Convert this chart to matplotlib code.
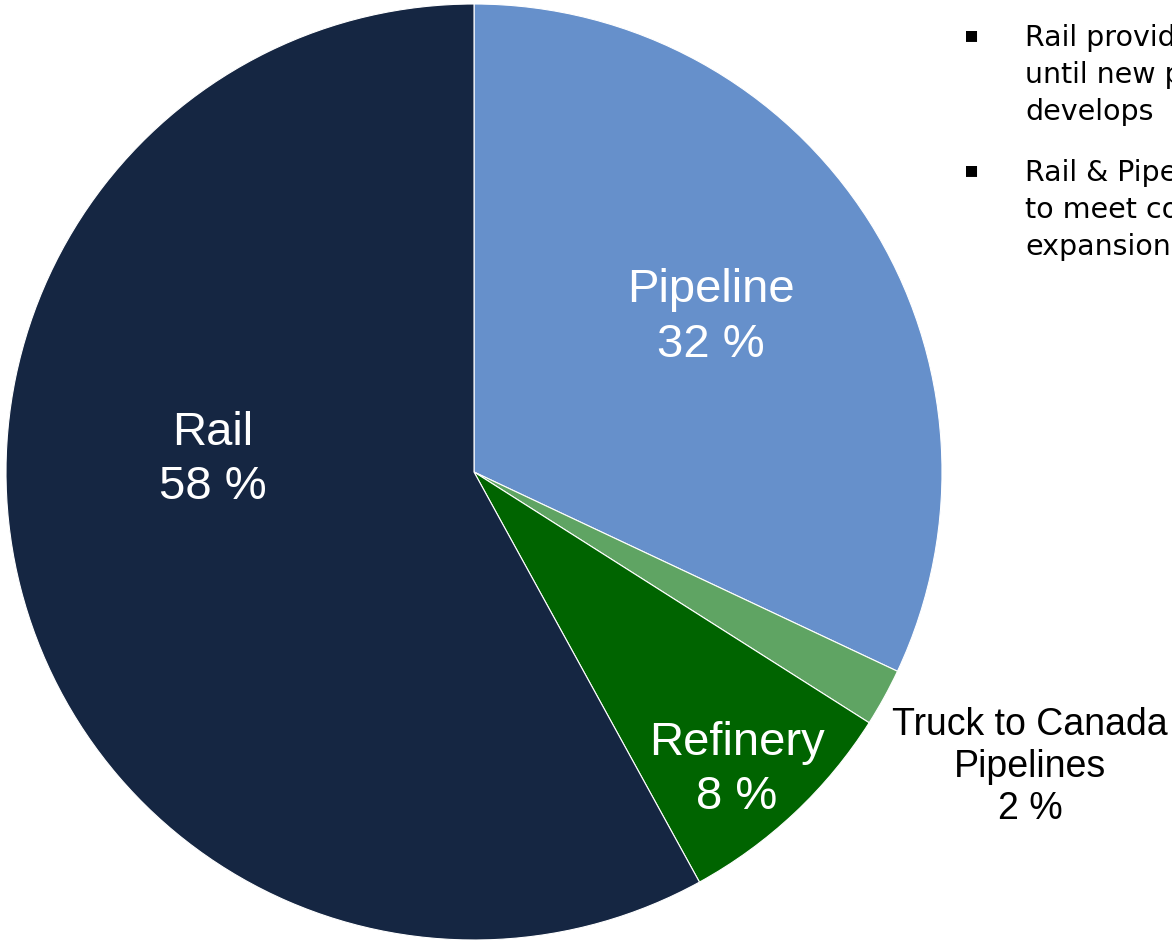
import matplotlib.pyplot as plt

labels = ['Pipeline', 'Truck to Canada\nPipelines', 'Refinery', 'Rail']
shares = [32, 2, 8, 58]
colors = ['#6690CB', '#5FA463', '#006400', '#152642']
bullets = ['Rail provides\nuntil new pipeline\ndevelops',
           'Rail & Pipeline\nto meet continued\nexpansion']

W, H = 1172, 944
cx, cy, r = 474, 472, 468

fig = plt.figure(figsize=(W / 100, H / 100), dpi=100)
ax = fig.add_axes([0, 0, 1, 1])
ax.pie(shares, colors=colors, startangle=90, counterclock=False,
       wedgeprops=dict(edgecolor='white', linewidth=0.8))
ax.set_aspect('auto')
ax.set_xlim(-cx / r, (W - cx) / r)
ax.set_ylim(-(H - cy) / r, cy / r)
ax.axis('off')

# label spots (data units, pie radius = 1)
spots = [(0.507, 0.33), (1.188, -0.630), (0.562, -0.637), (-0.558, 0.026)]
for lab, val, (x, y), c in zip(labels, shares, spots, colors):
    small = '\n' in lab
    ax.text(x, y, f'{lab}\n{val} %', ha='center', va='center',
            family='Liberation Sans', fontsize=27 if small else 34,
            color='black' if small else 'white',
            linespacing=1.22 if small else 1.3)

for i, b in enumerate(bullets):
    ytop = 1 - (24 + i * 135) / H
    fig.text(972 / W, ytop - 11 / H, '▪', ha='center', va='center',
             fontsize=16, color='black', family='DejaVu Sans')
    fig.text(1025 / W, ytop, b, ha='left', va='top', fontsize=20.5,
             family='DejaVu Sans', linespacing=1.4)

fig.savefig('out.png', dpi=100)
